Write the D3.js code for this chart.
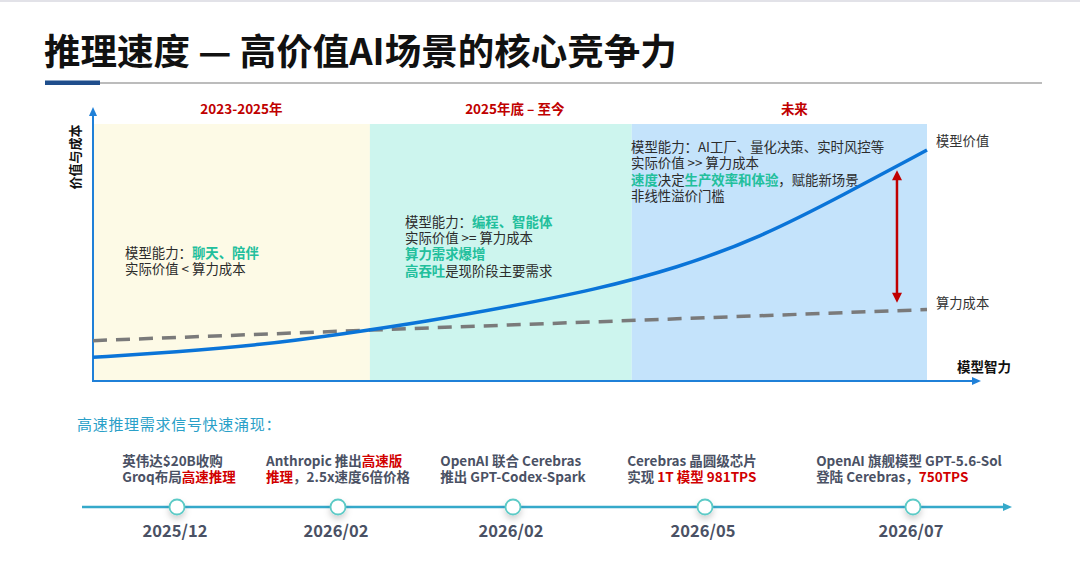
<!DOCTYPE html>
<html><head><meta charset="utf-8">
<script src="https://cdn.jsdelivr.net/npm/d3@7"></script>
<style>
html,body{margin:0;padding:0;background:#fff;}
svg{display:block;font-family:"Noto Sans CJK SC","Noto Sans",sans-serif;}
</style></head>
<body><svg id="c" width="1080" height="575"></svg>
<script>
// ---------- data ----------
const titleText = "推理速度 — 高价值AI场景的核心竞争力";
const yAxisLabel = "价值与成本";
const xAxisLabel = "模型智力";
const phaseLabels = ["2023-2025年", "2025年底 – 至今", "未来"];
const phaseBounds = [0, 3.32, 6.46, 10];
const curveX = [0, 1, 2, 3, 4, 5, 6, 7, 8, 9, 10];
const valueSeries = [9.2, 11.3, 14.0, 18.3, 23.2, 29.0, 35.4, 43.9, 55.8, 72.4, 89.9];
const costX = [0, 3.32, 6.08, 10];
const costSeries = [15.7, 19.8, 23.1, 27.8];
const seriesNames = ["模型价值", "算力成本"];
const gapAt = 9.64;
// note lines: [text, highlighted?]
const phaseNotes = [
  [[["模型能力：",0],["聊天、陪伴",1]], [["实际价值 < 算力成本",0]]],
  [[["模型能力：",0],["编程、智能体",1]], [["实际价值 >= 算力成本",0]], [["算力需求爆增",1]], [["高吞吐",1],["是现阶段主要需求",0]]],
  [[["模型能力：AI工厂、量化决策、实时风控等",0]], [["实际价值 >> 算力成本",0]], [["速度",1],["决定",0],["生产效率和体验",1],["，赋能新场景",0]], [["非线性溢价门槛",0]]]
];
const timelineTitle = "高速推理需求信号快速涌现：";
const eventDates = ["2025/12", "2026/02", "2026/02", "2026/05", "2026/07"];
const eventLines = [
  [[["英伟达$20B收购",0]], [["Groq布局",0],["高速推理",1]]],
  [[["Anthropic 推出",0],["高速版",1]], [["推理",1],["，2.5x速度6倍价格",0]]],
  [[["OpenAI 联合 Cerebras",0]], [["推出 GPT-Codex-Spark",0]]],
  [[["Cerebras 晶圆级芯片",0]], [["实现 ",0],["1T 模型 981TPS",1]]],
  [[["OpenAI 旗舰模型 GPT-5.6-Sol",0]], [["登陆 Cerebras，",0],["750TPS",1]]]
];

// ---------- drawing ----------
const svg = d3.select("#c");
const defs = svg.append("defs");
const f = defs.append("filter").attr("id","sh").attr("x","-100%").attr("y","-100%").attr("width","300%").attr("height","300%");
f.append("feDropShadow").attr("dx",0).attr("dy",4).attr("stdDeviation",3).attr("flood-color","#000").attr("flood-opacity",0.18);

// top border
svg.append("rect").attr("x",0).attr("y",0).attr("width",1080).attr("height",2).attr("fill","#e2e2e8");

// title
svg.append("text").attr("x",44).attr("y",65).attr("font-size",36.5).attr("font-weight",700)
  .attr("fill","#111").text(titleText);
svg.append("line").attr("x1",45).attr("x2",1042).attr("y1",83).attr("y2",83)
  .attr("stroke","#a6a6a6").attr("stroke-width",1.5);
svg.append("rect").attr("x",45).attr("y",80.5).attr("width",55).attr("height",4.5).attr("fill","#1f4e8c");

const x = d3.scaleLinear().domain([0,10]).range([93,927]);
const y = d3.scaleLinear().domain([0,100]).range([381,124]);

const phaseFill = ["#fdfae6","#cdf5ee","#c4e3fb"];
svg.append("g").selectAll("rect").data(phaseLabels).join("rect")
  .attr("x",(d,i)=>x(phaseBounds[i])).attr("width",(d,i)=>x(phaseBounds[i+1])-x(phaseBounds[i]))
  .attr("y",y(100)).attr("height",y(0)-y(100)).attr("fill",(d,i)=>phaseFill[i]);

const labelOffset = [10, 14, 15];
svg.append("g").selectAll("text").data(phaseLabels).join("text")
  .attr("x",(d,i)=>(x(phaseBounds[i])+x(phaseBounds[i+1]))/2+labelOffset[i])
  .attr("y",114).attr("text-anchor","middle").attr("font-size",13.5).attr("font-weight",700)
  .attr("fill","#c00000").text(d=>d);

// multi-line text helper: one <text> element per block
function block(lines, left, top, size, lh, base, hi, hiBold, bold){
  const t = svg.append("text").attr("font-size",size).attr("font-weight",bold?700:400);
  const lineSpans = [];
  lines.forEach((segs,j)=>{
    const spans = [];
    segs.forEach((s,k)=>{
      const ts = t.append("tspan").text(s[0]).attr("fill", s[1]? hi : base);
      if(hiBold) ts.attr("font-weight", s[1]?700:(bold?700:400));
      if(k===0) ts.attr("x",left).attr("y", top + j*lh);
      spans.push(ts);
    });
    lineSpans.push(spans);
  });
  return {t, lineSpans};
}

// notes
const noteY = [50, 62, 91];
const noteLeft = [125, 405, 631];
const green = "#22bf9c";
phaseNotes.forEach((lines,i)=>{
  block(lines, noteLeft[i], y(noteY[i]) + 5, 13.4, 16.3, "#2b2b2b", green, true, false);
});

// axes
const axisColor = "#1f80d8";
svg.append("line").attr("x1",x(0)).attr("x2",x(0)).attr("y1",y(0)+1).attr("y2",114)
  .attr("stroke",axisColor).attr("stroke-width",2);
svg.append("path").attr("d",`M${x(0)-4},116 L${x(0)},107 L${x(0)+4},116 Z`).attr("fill",axisColor);
svg.append("line").attr("x1",x(0)-1).attr("x2",974).attr("y1",y(0)).attr("y2",y(0))
  .attr("stroke",axisColor).attr("stroke-width",2);
svg.append("path").attr("d",`M972,${y(0)-4} L981,${y(0)} L972,${y(0)+4} Z`).attr("fill",axisColor);

svg.append("text").attr("transform",`translate(80,157) rotate(-90)`).attr("text-anchor","middle")
  .attr("font-size",13).attr("font-weight",700).attr("fill","#111").text(yAxisLabel);
svg.append("text").attr("x",957).attr("y",372).attr("font-size",13.5).attr("font-weight",700)
  .attr("fill","#111").text(xAxisLabel);

// curves
const costLine = d3.line().x(d=>x(d[0])).y(d=>y(d[1]));
svg.append("path").datum(costX.map((v,i)=>[v,costSeries[i]])).attr("d",costLine)
  .attr("fill","none").attr("stroke","#7a7a7a").attr("stroke-width",3.5).attr("stroke-dasharray","14,9");
const valLine = d3.line().x(d=>x(d[0])).y(d=>y(d[1])).curve(d3.curveBasis);
svg.append("path").datum(curveX.map((v,i)=>[v,valueSeries[i]])).attr("d",valLine)
  .attr("fill","none").attr("stroke","#0a74d8").attr("stroke-width",3.5);

svg.append("text").attr("x",x(10)+9).attr("y",y(valueSeries[valueSeries.length-1])-4)
  .attr("font-size",13.3).attr("fill","#333").text(seriesNames[0]);
svg.append("text").attr("x",x(10)+9).attr("y",y(costSeries[costSeries.length-1])-2)
  .attr("font-size",13.3).attr("fill","#333").text(seriesNames[1]);

// gap arrow
const interp = (xs,ys,v)=>{ for(let i=0;i<xs.length-1;i++){ if(v>=xs[i]&&v<=xs[i+1]){ const t=(v-xs[i])/(xs[i+1]-xs[i]); return ys[i]+t*(ys[i+1]-ys[i]); } } return ys[ys.length-1]; };
const ax = x(gapAt);
const yTop = y(interp(curveX,valueSeries,gapAt)) + 4;
const yBot = y(interp(costX,costSeries,gapAt)) - 8;
const red = "#c00000";
svg.append("line").attr("x1",ax).attr("x2",ax).attr("y1",yTop+8).attr("y2",yBot-8)
  .attr("stroke",red).attr("stroke-width",2.5);
svg.append("path").attr("d",`M${ax-5},${yTop+10} L${ax},${yTop} L${ax+5},${yTop+10} Z`).attr("fill",red);
svg.append("path").attr("d",`M${ax-5},${yBot-10} L${ax},${yBot} L${ax+5},${yBot-10} Z`).attr("fill",red);

// timeline
svg.append("text").attr("x",77).attr("y",429.5).attr("font-size",15).attr("fill","#2aa0c8")
  .attr("letter-spacing",0.7).text(timelineTitle);
const tlY = 507;
const tx = d3.scaleLinear().domain([0,1,2,3,4]).range([177,338,513,705,913]);
svg.append("line").attr("x1",82).attr("x2",1006).attr("y1",tlY).attr("y2",tlY)
  .attr("stroke","#35a9ca").attr("stroke-width",2.5);
svg.append("path").attr("d",`M1003,${tlY-4} L1012,${tlY} L1003,${tlY+4} Z`).attr("fill","#35a9ca");
svg.append("g").selectAll("circle").data(eventDates).join("circle")
  .attr("cx",(d,i)=>tx(i)).attr("cy",tlY).attr("r",7.5).attr("fill","#fff")
  .attr("stroke","#5ccac6").attr("stroke-width",1.8).attr("filter","url(#sh)");
svg.append("g").selectAll("text").data(eventDates).join("text")
  .attr("x",(d,i)=>tx(i)-2).attr("y",536.5).attr("text-anchor","middle")
  .attr("font-size",16.5).attr("font-weight",700).attr("fill","#4a5164").text(d=>d);

const evOffset = [2, 0, 0, -13, -4];
eventLines.forEach((lines,i)=>{
  const b = block(lines, 0, 465.5, 13.5, 16.3, "#4a5164", "#d10000", false, true);
  const w = d3.max(b.lineSpans, spans=>d3.sum(spans, s=>s.node().getComputedTextLength()));
  const left = tx(i) - w/2 + evOffset[i];
  b.lineSpans.forEach(spans=>spans[0].attr("x", left));
});
</script></body></html>
